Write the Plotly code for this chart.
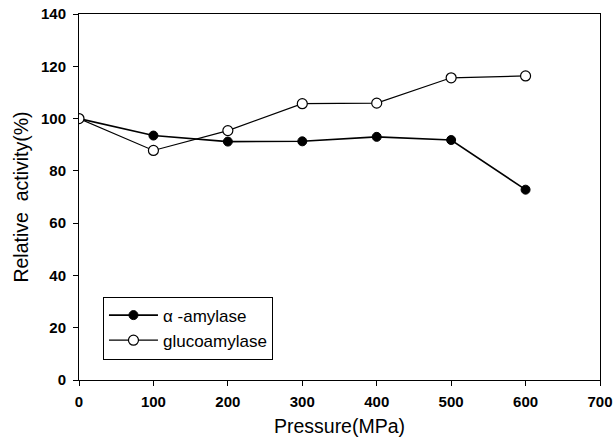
import plotly.graph_objects as go

pressure = [0, 100, 200, 300, 400, 500, 600]
alpha_amylase = [100, 93.5, 91.2, 91.3, 93.0, 91.8, 72.8]
glucoamylase = [100, 87.8, 95.4, 105.7, 105.9, 115.6, 116.3]
x_ticks = [0, 100, 200, 300, 400, 500, 600, 700]
y_ticks = [0, 20, 40, 60, 80, 100, 120, 140]

fig = go.Figure()
fig.add_trace(go.Scatter(
    x=pressure, y=alpha_amylase, mode="lines+markers", name="α -amylase",
    line=dict(color="black", width=1.6),
    marker=dict(symbol="circle", size=9, color="black", line=dict(color="black", width=1)),
))
fig.add_trace(go.Scatter(
    x=pressure, y=glucoamylase, mode="lines+markers", name="glucoamylase",
    line=dict(color="black", width=1.2),
    marker=dict(symbol="circle", size=10, color="white", line=dict(color="black", width=1.2)),
))

font_family = "Liberation Sans, Arial, sans-serif"
fig.update_layout(
    width=615, height=448,
    margin=dict(l=79, r=15, t=14, b=68, autoexpand=False),
    paper_bgcolor="white", plot_bgcolor="white",
    font=dict(family=font_family, color="black"),
    showlegend=True,
    legend=dict(
        x=0.046, y=0.228, xanchor="left", yanchor="top",
        bgcolor="white", bordercolor="black", borderwidth=1,
        font=dict(size=17, color="black", family=font_family),
        tracegroupgap=0, itemwidth=49,
    ),
    xaxis=dict(
        range=[0, 700], tickvals=x_ticks, ticktext=[str(v) for v in x_ticks],
        showgrid=False, zeroline=False, showline=True, linecolor="black", linewidth=1,
        mirror=True, ticks="outside", ticklen=5, tickcolor="black", automargin=False,
        ticklabelstandoff=3,
        tickfont=dict(size=15, family=font_family, weight="bold"),
        title=dict(text="Pressure(MPa)", font=dict(size=19.5, family=font_family), standoff=10),
    ),
    yaxis=dict(
        range=[0, 140], tickvals=y_ticks, ticktext=[str(v) for v in y_ticks],
        showgrid=False, zeroline=False, showline=True, linecolor="black", linewidth=1,
        mirror=True, ticks="outside", ticklen=5, tickcolor="black", automargin=False,
        ticklabelstandoff=4,
        tickfont=dict(size=15, family=font_family, weight="bold"),
        title=dict(text="Relative  activity(%)", font=dict(size=19.5, family=font_family), standoff=7),
    ),
)

fig.write_html("out.html", config={"displayModeBar": False},
               post_script="document.body.style.margin='0';")
